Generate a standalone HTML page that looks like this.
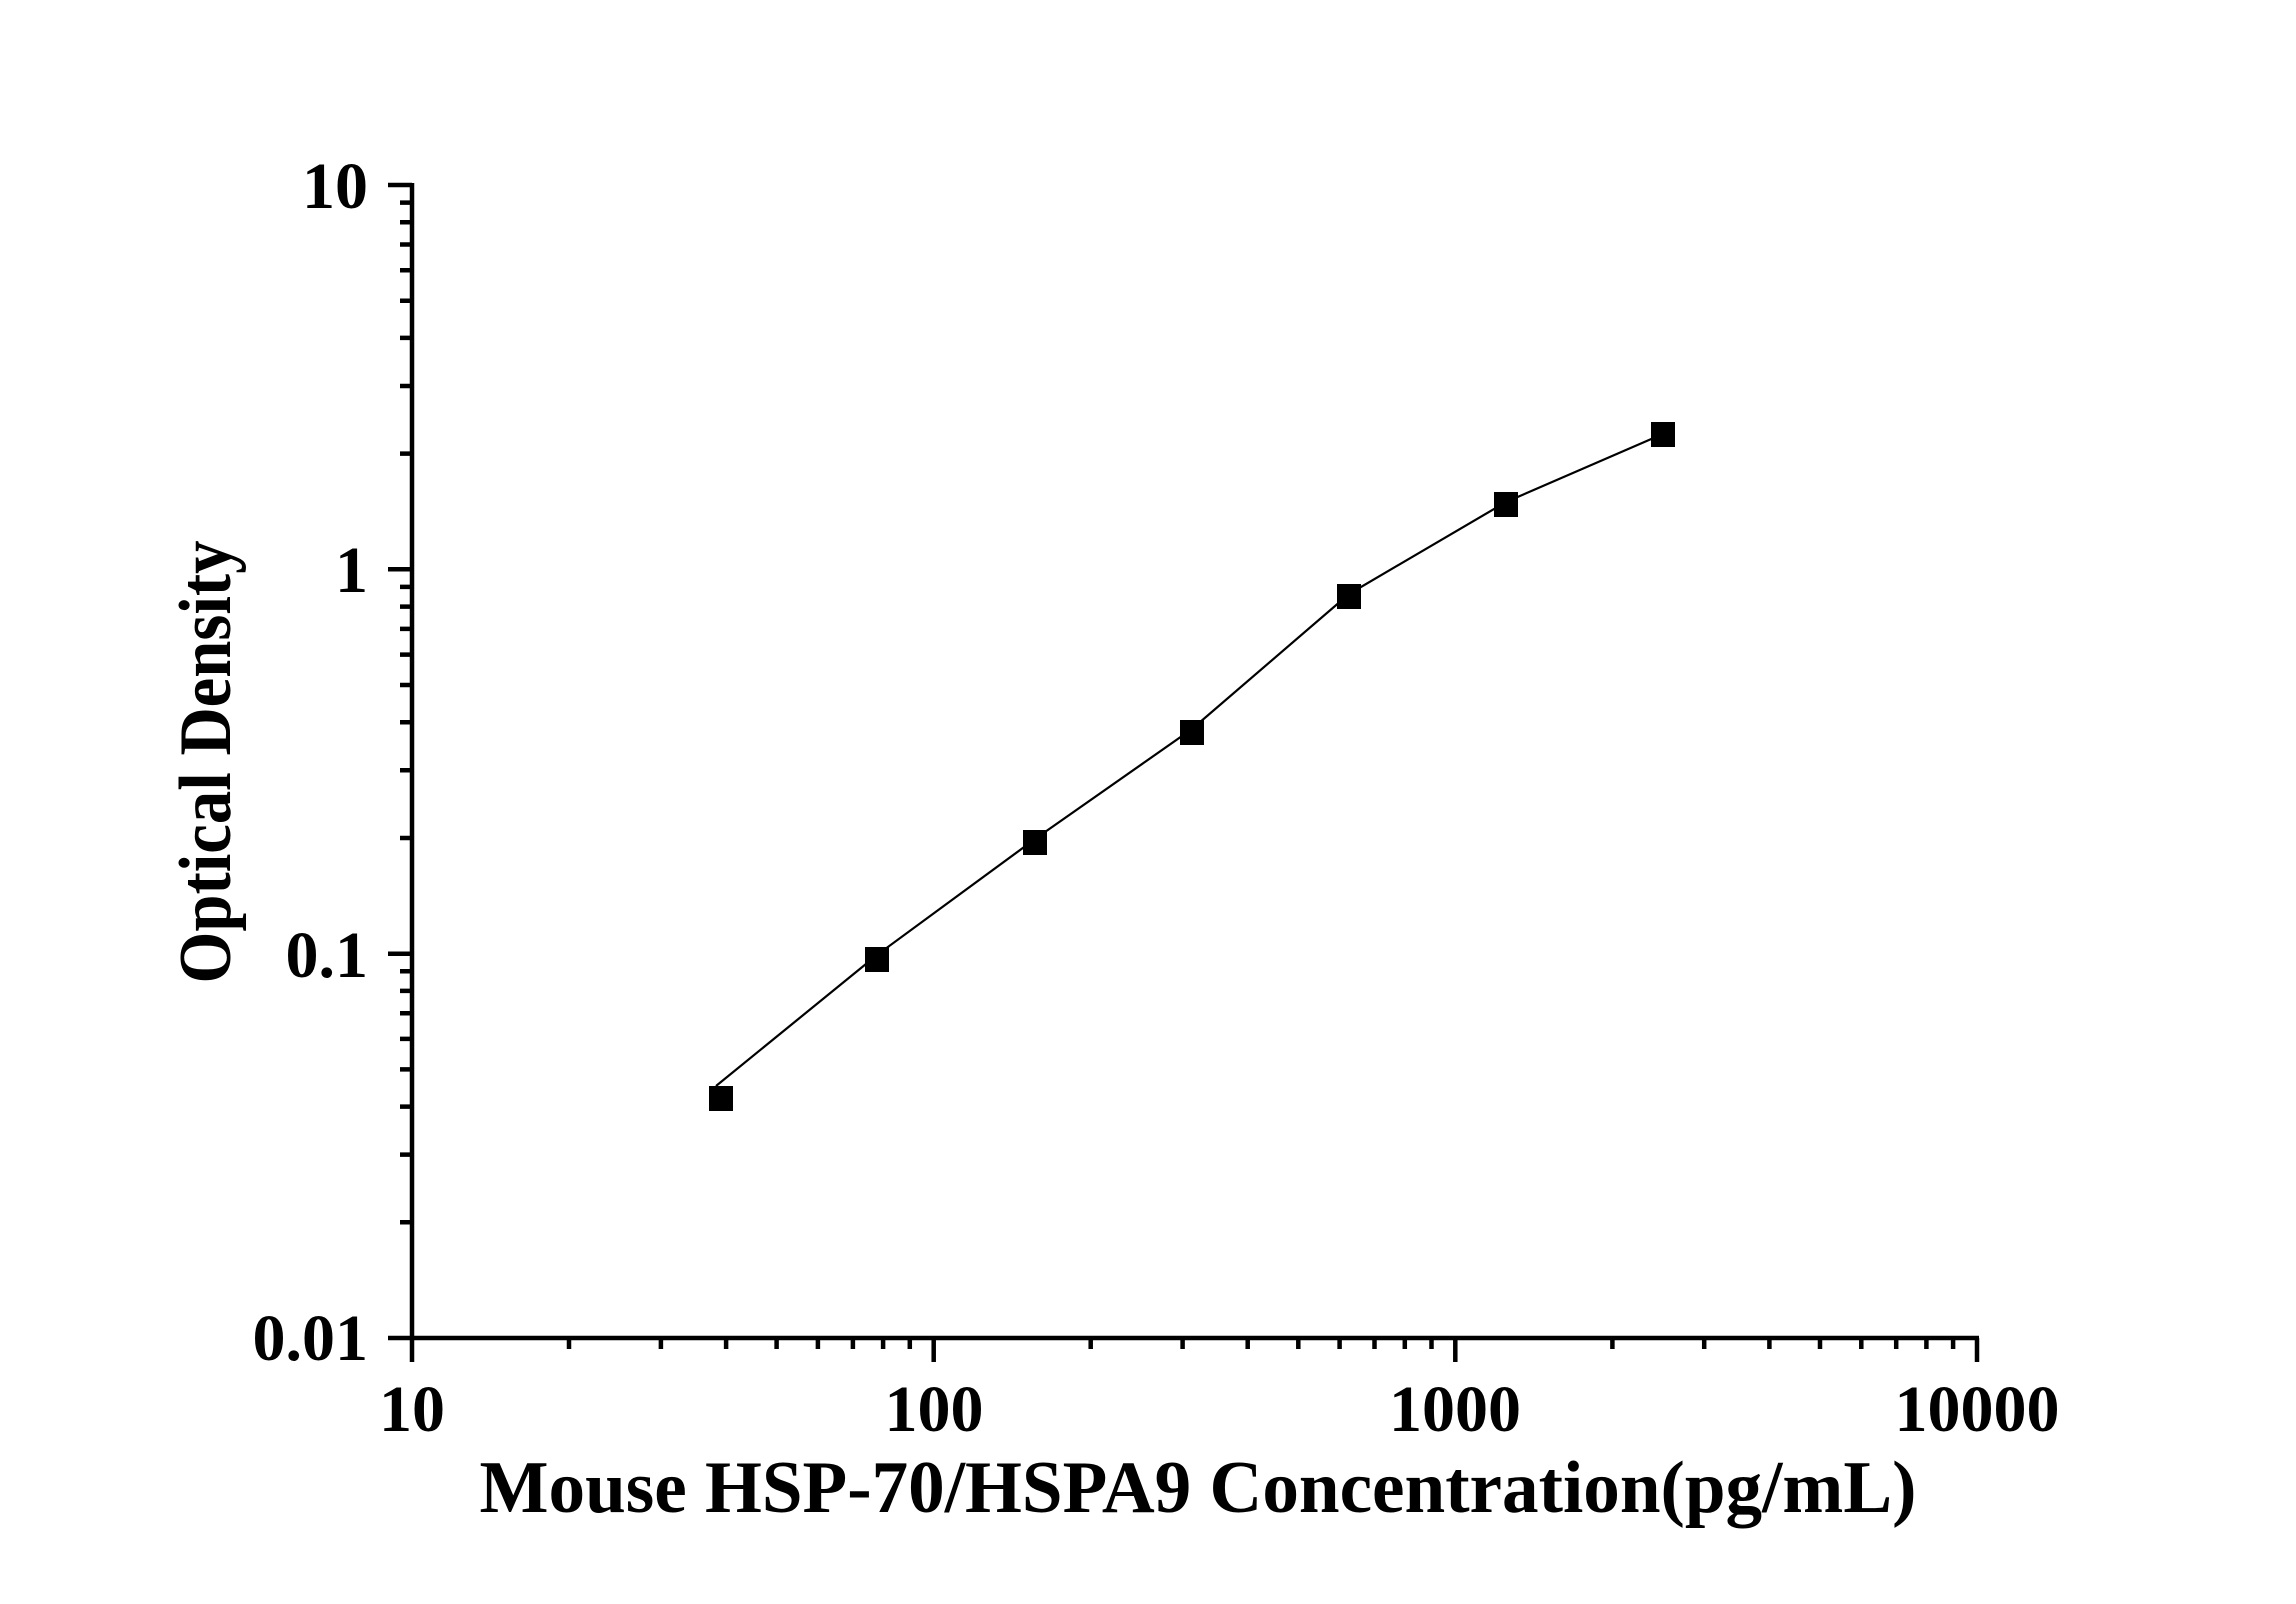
<!DOCTYPE html>
<html><head><meta charset="utf-8"><style>
html,body{margin:0;padding:0;background:#fff;}
svg{display:block;}
text{font-family:"Liberation Serif",serif;font-weight:bold;fill:#000;}
</style></head><body>
<svg width="2296" height="1604" viewBox="0 0 2296 1604" xmlns="http://www.w3.org/2000/svg">
<g stroke="#000" stroke-width="4.5" fill="none" stroke-linecap="butt">
<path d="M412,183 V1340 M410,1338 H1979"/>
<path d="M388,185 H412 M388,569.3 H412 M388,953.7 H412 M388,1338 H412"/>
<path d="M412,1338 V1362 M933.7,1338 V1362 M1455.3,1338 V1362 M1977,1338 V1362"/>
</g>
<g stroke="#000" stroke-width="4.5" fill="none">
<path id="mt" d=""/>
</g>
<script>
(function(){
var d="";
var ys=[185,569.33,953.67],dy=384.33;
for(var k=0;k<3;k++){for(var m=2;m<=9;m++){var y=ys[k]+dy*(1-Math.log10(m));d+="M400,"+y.toFixed(1)+" H412 ";}}
var xs=[412,933.67,1455.33],dx=521.67;
for(var k=0;k<3;k++){for(var m=2;m<=9;m++){var x=xs[k]+dx*Math.log10(m);d+="M"+x.toFixed(1)+",1338 V1349 ";}}
document.getElementById("mt").setAttribute("d",d);
})();
</script>
<g font-size="66">
<text x="368" y="208" text-anchor="end">10</text>
<text x="368" y="592" text-anchor="end">1</text>
<text x="368" y="977" text-anchor="end">0.1</text>
<text x="368" y="1360" text-anchor="end">0.01</text>
<text x="412" y="1431" text-anchor="middle">10</text>
<text x="934" y="1431" text-anchor="middle">100</text>
<text x="1455" y="1431" text-anchor="middle">1000</text>
<text x="1977" y="1431" text-anchor="middle">10000</text>
</g>
<text x="1198" y="1512" font-size="74" text-anchor="middle" textLength="1437" lengthAdjust="spacingAndGlyphs">Mouse HSP-70/HSPA9 Concentration(pg/mL)</text>
<text transform="translate(230,762) rotate(-90)" font-size="74" text-anchor="middle" textLength="443" lengthAdjust="spacingAndGlyphs">Optical Density</text>
<polyline fill="none" stroke="#000" stroke-width="2.2" points="716,1086 877,955 1035,839 1192,729 1349,594 1506,502 1656,437"/>
<g fill="#000">
<rect x="709" y="1086" width="24" height="25"/>
<rect x="865" y="947" width="24" height="25"/>
<rect x="1023" y="830" width="24" height="25"/>
<rect x="1180" y="720" width="24" height="25"/>
<rect x="1337" y="584" width="24" height="25"/>
<rect x="1494" y="492" width="24" height="25"/>
<rect x="1651" y="422" width="24" height="25"/>
</g>
</svg>
</body></html>
